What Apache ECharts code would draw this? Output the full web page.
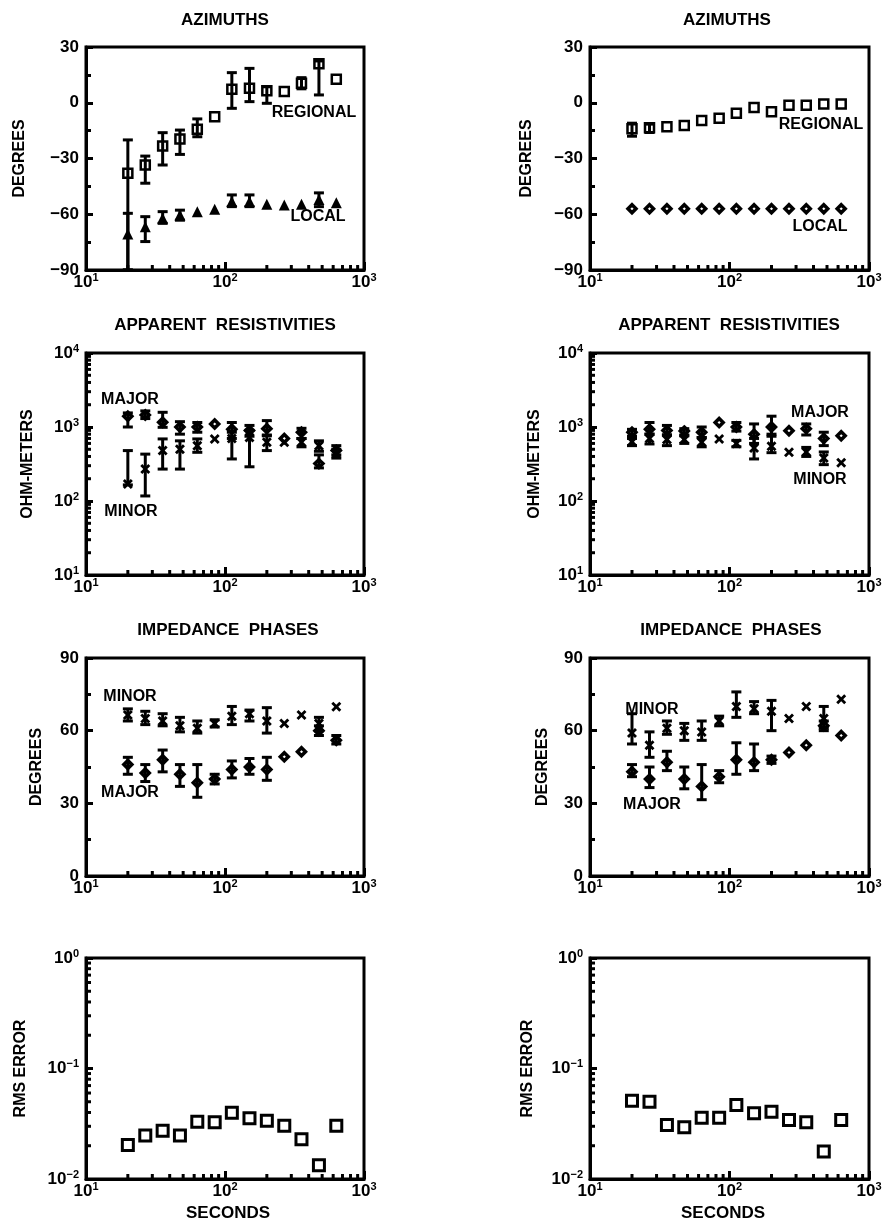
<!DOCTYPE html>
<html>
<head>
<meta charset="utf-8">
<script src="https://cdn.jsdelivr.net/npm/echarts@6/dist/echarts.min.js"></script>
<style>
html, body { margin: 0; padding: 0; background: #fff; }
#main { width: 888px; height: 1223px; }
</style>
</head>
<body>
<div id="main"></div>
<script>
// periods in seconds, same for every panel
var periods = [20, 26.7, 35.6, 47.4, 63.2, 84.3, 112, 150, 200, 267, 355, 474, 632];

// azimuths, left station
var azRegL   = [-38, -33.5, -23.3, -19.5, -14.3, -7.5, 7.2, 7.8, 6.5, 6, 10.5, 21, 12.6];
var azRegLLo = [-90, -43.3, -33.5, -27.8, -18.3, null, -3, 0.6, -0.3, null, 7.5, 4.2, null];
var azRegLHi = [-20, -28.7, -16.1, -14.7, -8.7, null, 16.2, 18.5, 8.6, null, 13.5, 22.5, null];
var azLocL   = [-70.6, -66.7, -62.2, -60.4, -58.6, -57.3, -53.2, -53.2, -54.6, -55, -54.6, -52, -53.8];
var azLocLLo = [-90, -74.7, -64.9, -63.2, null, null, -55.9, -55.9, null, null, null, -55.9, null];
var azLocLHi = [-59.5, -61.3, -58.6, -57.8, null, null, -49.6, -49.6, null, null, null, -48.5, null];

// azimuths, right station
var azRegR   = [-14, -13.5, -12.9, -12.3, -9.6, -8.4, -5.7, -2.5, -4.8, -1.4, -1.4, -0.7, -0.7];
var azRegRLo = [-18, -16, null, null, null, null, null, null, null, null, null, null, null];
var azRegRHi = [-11, -11.5, null, null, null, null, null, null, null, null, null, null, null];
var azLocR   = [-57, -57, -57, -57, -57, -57, -57, -57, -57, -57, -57, -57, -57];

// apparent resistivities (ohm-m)
var rhoMajL   = [1400, 1450, 1160, 1000, 1000, 1100, 930, 900, 950, 700, 850, 320, 480];
var rhoMajLLo = [1000, 1300, 990, 800, 850, null, 700, 750, 780, null, 700, 280, 420];
var rhoMajLHi = [1550, 1650, 1580, 1180, 1150, null, 1150, 1050, 1220, null, 960, 420, 560];
var rhoMinL   = [170, 270, 480, 500, 560, 690, 700, 720, 620, 620, 620, 560, 430];
var rhoMinLLo = [165, 117, 270, 270, 455, null, 370, 290, 480, null, 540, 470, 380];
var rhoMinLHi = [480, 430, 690, 650, 690, null, 850, 900, 760, null, 700, 650, 500];

var rhoMajR   = [850, 930, 900, 880, 850, 1150, 1000, 800, 1000, 890, 950, 700, 760];
var rhoMajRLo = [750, 800, 780, 780, 720, null, 880, 600, 800, null, 780, 560, null];
var rhoMajRHi = [930, 1150, 1050, 950, 1000, null, 1150, 1100, 1400, null, 1100, 850, null];
var rhoMinR   = [630, 700, 680, 680, 620, 690, 600, 520, 550, 455, 460, 380, 330];
var rhoMinRLo = [560, 590, 560, 600, 540, null, 540, 370, 450, null, 400, 310, null];
var rhoMinRHi = [700, 800, 780, 760, 720, null, 660, 700, 750, null, 530, 460, null];

// impedance phases (degrees)
var phMinL   = [66.5, 65, 64, 62, 61, 63, 66, 67, 64, 63, 66.5, 63, 69.9];
var phMinLLo = [64, 62.5, 62, 59.5, 59, 61.5, 62.5, 64, 59, null, null, 60, null];
var phMinLHi = [69, 68, 67, 65.5, 64, 64.5, 70, 68.5, 69.5, null, null, 65.5, null];
var phMajL   = [46, 42.5, 48, 42, 38.5, 40, 44, 45, 44, 49.2, 51.3, 60, 56];
var phMajLLo = [42, 39, 43, 37, 32.5, 38, 40.5, 42, 39.5, null, null, 58, 54.5];
var phMajLHi = [49, 46, 52, 46, 46, 42, 47.5, 48.5, 49, null, null, 62, 58];

var phMinR   = [59, 54, 61, 60, 59.5, 64, 70, 69, 68, 65, 70, 65, 73];
var phMinRLo = [54.5, 49, 58.5, 56, 56, 62, 65.5, 67, 60, null, null, 61, null];
var phMinRHi = [67, 59.5, 64, 63, 64, 66, 76, 72, 72.5, null, null, 70, null];
var phMajR   = [43, 40, 47, 40, 37, 41, 48, 47, 48, 51, 54, 62, 58];
var phMajRLo = [41, 36.5, 43.5, 36, 31.5, 38.5, 42, 43.5, 46.5, null, null, 60, null];
var phMajRHi = [46, 45, 51.5, 45, 46, 43.5, 55, 54.5, 49.5, null, null, 64, null];

// rms misfit
var rmsL = [0.0203, 0.0247, 0.0274, 0.0247, 0.033, 0.0326, 0.0398, 0.0354, 0.0337, 0.0304, 0.0229, 0.0133, 0.0304];
var rmsR = [0.0511, 0.0501, 0.0308, 0.0294, 0.0359, 0.0359, 0.0468, 0.0393, 0.0406, 0.0342, 0.0326, 0.0177, 0.0342];

// minor tick values
var xMinor = [20, 30, 40, 50, 60, 70, 80, 90, 200, 300, 400, 500, 600, 700, 800, 900];
var rhoMinor = [20, 30, 40, 50, 60, 70, 80, 90, 200, 300, 400, 500, 600, 700, 800, 900,
                2000, 3000, 4000, 5000, 6000, 7000, 8000, 9000];
var rmsMinor = [0.02, 0.03, 0.04, 0.05, 0.06, 0.07, 0.08, 0.09, 0.2, 0.3, 0.4, 0.5, 0.6, 0.7, 0.8, 0.9];

var FONT = 'Liberation Sans';
var cols = [{left: 86, width: 278}, {left: 590, width: 279}];
var rows = [{top: 47, height: 223}, {top: 353, height: 222}, {top: 658, height: 218}, {top: 958, height: 221}];
var nameGaps = [[58, 55], [50, 47], [41, 39], [57, 54]];

var SQ  = {symbol: 'rect', size: 9, style: {color: '#fff', borderColor: '#000', borderWidth: 2.5, opacity: 1}};
var SQB = {symbol: 'rect', size: 11, style: {color: '#fff', borderColor: '#000', borderWidth: 3, opacity: 1}};
var TRI = {symbol: 'triangle', size: 11, style: {color: '#000', opacity: 1}};
var DIA = {symbol: 'diamond', size: 8, style: {color: '#fff', borderColor: '#000', borderWidth: 3.5, opacity: 1}};
var XS  = {symbol: 'path://M0,2L2,0L5,3L8,0L10,2L7,5L10,8L8,10L5,7L2,10L0,8L3,5Z', size: 10, style: {color: '#000', opacity: 1}};

function supLabel(v) {
    var e = Math.round(Math.log10(v));
    return '{b|10}{s|' + (e < 0 ? '\u2212' + (-e) : e) + '}';
}
var supRich = {
    b: {fontSize: 17, fontWeight: 'bold', fontFamily: FONT, color: '#000', lineHeight: 20},
    s: {fontSize: 11, fontWeight: 'bold', fontFamily: FONT, color: '#000', verticalAlign: 'top', lineHeight: 11}
};

function scatter(gi, vals, sym) {
    return {
        type: 'scatter', xAxisIndex: gi, yAxisIndex: gi, silent: true, z: 3,
        symbol: sym.symbol, symbolSize: sym.size, itemStyle: sym.style,
        data: periods.map(function (p, i) { return [p, vals[i]]; })
    };
}

function errBars(gi, lo, hi) {
    var d = [];
    periods.forEach(function (p, i) { if (lo[i] != null) d.push([p, lo[i], hi[i]]); });
    return {
        type: 'custom', xAxisIndex: gi, yAxisIndex: gi, silent: true, z: 4, data: d,
        encode: {x: 0, y: [1, 2]},
        renderItem: function (params, api) {
            var a = api.coord([api.value(0), api.value(1)]);
            var b = api.coord([api.value(0), api.value(2)]);
            var st = {stroke: '#000', lineWidth: 3};
            return {type: 'group', children: [
                {type: 'line', shape: {x1: a[0], y1: a[1], x2: b[0], y2: b[1]}, style: st},
                {type: 'line', shape: {x1: a[0] - 5, y1: a[1], x2: a[0] + 5, y2: a[1]}, style: st},
                {type: 'line', shape: {x1: b[0] - 5, y1: b[1], x2: b[0] + 5, y2: b[1]}, style: st}
            ]};
        }
    };
}

// minor ticks placed through the axis scale
function ticks(gi, vals, horiz, anchor) {
    return {
        type: 'custom', xAxisIndex: gi, yAxisIndex: gi, silent: true, z: 5,
        data: vals.map(function (v) { return horiz ? [v, anchor] : [anchor, v]; }),
        renderItem: function (params, api) {
            var p = api.coord([api.value(0), api.value(1)]);
            var sh = horiz ? {x1: p[0], y1: p[1], x2: p[0], y2: p[1] - 5}
                           : {x1: p[0], y1: p[1], x2: p[0] + 5, y2: p[1]};
            return {type: 'line', shape: sh, style: {stroke: '#000', lineWidth: 3}};
        }
    };
}

var grids = [], xAxes = [], yAxes = [], series = [];
var yDefs = [
    {type: 'value', min: -90, max: 30, interval: 30, name: 'DEGREES'},
    {type: 'log', min: 10, max: 10000, name: 'OHM-METERS', minor: rhoMinor},
    {type: 'value', min: 0, max: 90, interval: 30, name: 'DEGREES'},
    {type: 'log', min: 0.01, max: 1, name: 'RMS ERROR', minor: rmsMinor}
];

rows.forEach(function (r, ri) {
    cols.forEach(function (c, ci) {
        var gi = ri * 2 + ci;
        var yd = yDefs[ri];
        grids.push({left: c.left, top: r.top, width: c.width, height: r.height,
            show: true, borderColor: '#000', borderWidth: 3, backgroundColor: 'transparent'});
        xAxes.push({
            type: 'log', logBase: 10, min: 10, max: 1000, gridIndex: gi,
            axisLine: {onZero: false, lineStyle: {color: '#000', width: 3}},
            axisTick: {inside: true, length: 8, lineStyle: {color: '#000', width: 3}},
            axisLabel: {margin: 2, formatter: supLabel, rich: supRich},
            splitLine: {show: false}
        });
        var y = {
            type: yd.type, min: yd.min, max: yd.max, gridIndex: gi,
            name: yd.name, nameLocation: 'middle', nameRotate: 90, nameGap: nameGaps[ri][ci],
            nameTextStyle: {fontSize: 16, fontWeight: 'bold', fontFamily: FONT, color: '#000'},
            axisLine: {onZero: false, lineStyle: {color: '#000', width: 3}},
            axisTick: {inside: true, length: 7, lineStyle: {color: '#000', width: 3}},
            splitLine: {show: false}
        };
        if (yd.type === 'value') {
            y.interval = yd.interval;
            y.minorTick = {show: true, splitNumber: 2, length: 5, lineStyle: {color: '#000', width: 3}};
            y.axisLabel = {margin: 7, fontSize: 17, fontWeight: 'bold', fontFamily: FONT, color: '#000',
                formatter: function (v) { return v < 0 ? '\u2212' + Math.abs(v) : '' + v; }};
        } else {
            y.logBase = 10;
            y.axisLabel = {margin: 7, formatter: supLabel, rich: supRich};
            series.push(ticks(gi, yd.minor, false, 10));
        }
        yAxes.push(y);
        series.push(ticks(gi, xMinor, true, yd.min));
    });
});

// row 1: azimuths
series.push(scatter(0, azRegL, SQ), errBars(0, azRegLLo, azRegLHi));
series.push(scatter(0, azLocL, TRI), errBars(0, azLocLLo, azLocLHi));
series.push(scatter(1, azRegR, SQ), errBars(1, azRegRLo, azRegRHi));
series.push(scatter(1, azLocR, DIA));
// row 2: resistivities
series.push(scatter(2, rhoMajL, DIA), errBars(2, rhoMajLLo, rhoMajLHi));
series.push(scatter(2, rhoMinL, XS), errBars(2, rhoMinLLo, rhoMinLHi));
series.push(scatter(3, rhoMajR, DIA), errBars(3, rhoMajRLo, rhoMajRHi));
series.push(scatter(3, rhoMinR, XS), errBars(3, rhoMinRLo, rhoMinRHi));
// row 3: phases
series.push(scatter(4, phMinL, XS), errBars(4, phMinLLo, phMinLHi));
series.push(scatter(4, phMajL, DIA), errBars(4, phMajLLo, phMajLHi));
series.push(scatter(5, phMinR, XS), errBars(5, phMinRLo, phMinRHi));
series.push(scatter(5, phMajR, DIA), errBars(5, phMajRLo, phMajRHi));
// row 4: rms
series.push(scatter(6, rmsL, SQB));
series.push(scatter(7, rmsR, SQB));

var texts = [
    ['AZIMUTHS', 225, 20, 17], ['AZIMUTHS', 727, 20, 17],
    ['APPARENT  RESISTIVITIES', 225, 325, 17], ['APPARENT  RESISTIVITIES', 729, 325, 17],
    ['IMPEDANCE  PHASES', 228, 630, 17], ['IMPEDANCE  PHASES', 731, 630, 17],
    ['SECONDS', 228, 1213, 17], ['SECONDS', 723, 1213, 17],
    ['REGIONAL', 314, 113, 16], ['LOCAL', 318, 217, 16],
    ['REGIONAL', 821, 125, 16], ['LOCAL', 820, 227, 16],
    ['MAJOR', 130, 400, 16], ['MINOR', 131, 512, 16],
    ['MAJOR', 820, 413, 16], ['MINOR', 820, 480, 16],
    ['MINOR', 130, 697, 16], ['MAJOR', 130, 793, 16],
    ['MINOR', 652, 710, 16], ['MAJOR', 652, 805, 16]
];

var chart = echarts.init(document.getElementById('main'), null, {renderer: 'canvas'});
chart.setOption({
    animation: false,
    backgroundColor: '#fff',
    grid: grids,
    xAxis: xAxes,
    yAxis: yAxes,
    series: series,
    graphic: texts.map(function (t) {
        return {type: 'text', x: t[1], y: t[2], z: 10, silent: true,
            style: {text: t[0], fill: '#000', align: 'center', verticalAlign: 'middle',
                font: 'bold ' + t[3] + 'px "' + FONT + '"'}};
    })
});
</script>
</body>
</html>
